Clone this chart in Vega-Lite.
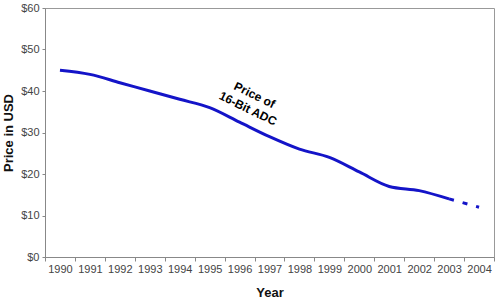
{
  "$schema": "https://vega.github.io/schema/vega-lite/v6.json",
  "width": 449,
  "height": 249,
  "autosize": {"type": "none"},
  "padding": {"left": 45, "top": 8, "right": 6, "bottom": 44},
  "config": {
    "font": "Liberation Sans",
    "view": {"stroke": "#999999", "strokeWidth": 1},
    "axis": {"grid": false, "domainColor": "#888888", "tickColor": "#888888", "labelColor": "#444444", "labelFontSize": 11, "titleFontSize": 13, "titleFontWeight": "bold", "titleColor": "#111111", "labelFont": "Liberation Sans", "titleFont": "Liberation Sans"}
  },
  "datasets": {
    "prices": [
      {"year": "1990", "price": 45, "seg": "actual"},
      {"year": "1991", "price": 44, "seg": "actual"},
      {"year": "1992", "price": 42, "seg": "actual"},
      {"year": "1993", "price": 40, "seg": "actual"},
      {"year": "1994", "price": 38, "seg": "actual"},
      {"year": "1995", "price": 36, "seg": "actual"},
      {"year": "1996", "price": 32.5, "seg": "actual"},
      {"year": "1997", "price": 29, "seg": "actual"},
      {"year": "1998", "price": 26, "seg": "actual"},
      {"year": "1999", "price": 24, "seg": "actual"},
      {"year": "2000", "price": 20.5, "seg": "actual"},
      {"year": "2001", "price": 17, "seg": "actual"},
      {"year": "2002", "price": 16, "seg": "actual"},
      {"year": "2003", "price": 14, "seg": "actual"},
      {"year": "2003", "price": 14, "seg": "projected"},
      {"year": "2004", "price": 12, "seg": "projected"}
    ],
    "note": [
      {"year": "1996", "price": 39, "label": ["Price of", "16-Bit ADC"]}
    ]
  },
  "layer": [
    {
      "data": {"name": "prices"},
      "transform": [{"filter": "datum.seg === 'actual'"}],
      "mark": {"type": "line", "color": "#1414c8", "strokeWidth": 3, "interpolate": "monotone"},
      "encoding": {
        "x": {"field": "year", "type": "ordinal", "bandPosition": 0.5,
              "scale": {"type": "band", "paddingInner": 0, "paddingOuter": 0,
                        "domain": ["1990","1991","1992","1993","1994","1995","1996","1997","1998","1999","2000","2001","2002","2003","2004"]},
              "axis": {"title": "Year", "labelAngle": 0, "tickBand": "extent", "tickSize": 4, "labelPadding": 2, "titlePadding": 12}},
        "y": {"field": "price", "type": "quantitative",
              "scale": {"domain": [0, 60]},
              "axis": {"title": "Price in USD", "values": [0,10,20,30,40,50,60], "labelExpr": "'$' + datum.value", "tickSize": 3, "labelPadding": 3, "titlePadding": 5}}
      }
    },
    {
      "data": {"name": "prices"},
      "transform": [{"filter": "datum.seg === 'projected'"}],
      "mark": {"type": "line", "color": "#1414c8", "strokeWidth": 3, "strokeDash": [5, 9]},
      "encoding": {
        "x": {"field": "year", "type": "ordinal", "bandPosition": 0.5},
        "y": {"field": "price", "type": "quantitative"}
      }
    },
    {
      "data": {"name": "note"},
      "mark": {"type": "text", "angle": 26, "fontWeight": "bold", "fontSize": 12, "color": "#000000", "align": "center", "baseline": "middle", "lineHeight": 15},
      "encoding": {
        "x": {"field": "year", "type": "ordinal", "bandPosition": 1},
        "y": {"field": "price", "type": "quantitative"},
        "text": {"field": "label"}
      }
    }
  ]
}
